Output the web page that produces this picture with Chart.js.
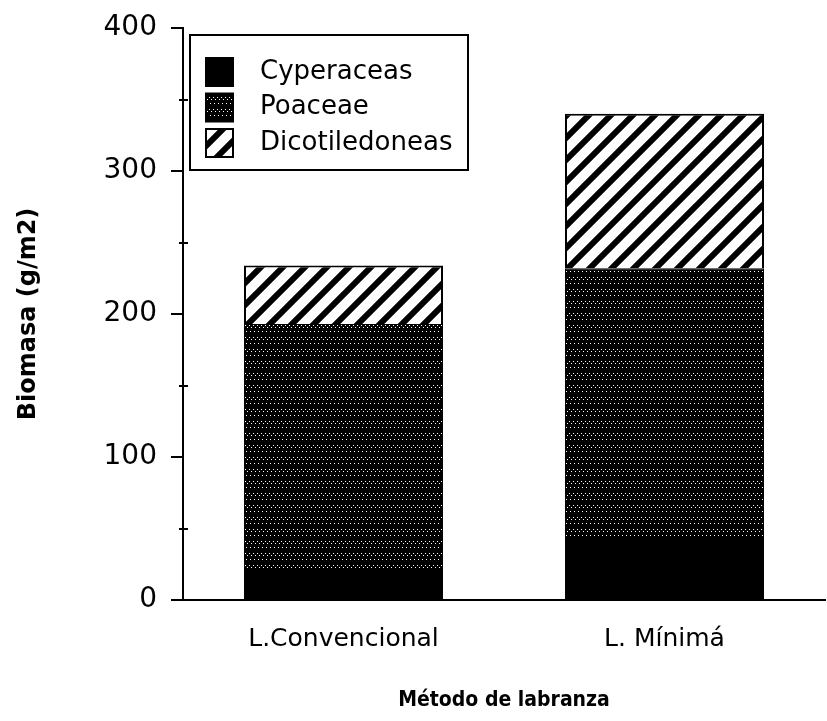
<!DOCTYPE html>
<html>
<head>
<meta charset="utf-8">
<script src="https://cdn.jsdelivr.net/npm/chart.js@4"></script>
<style>
  html, body { margin: 0; padding: 0; background: #fff; }
  #wrap { width: 827px; height: 721px; }
</style>
</head>
<body>
<div id="wrap"><canvas id="biomasaChart" width="827" height="721"></canvas></div>
<script>
var categories = ['L.Convencional', 'L. Mínimá'];
var cyperaceas = [21, 42];
var poaceae = [172, 190];
var dicotiledoneas = [41, 108];
var yTicks = [0, 100, 200, 300, 400];

// stippled fill for Poaceae
function stipple() {
    var c = document.createElement('canvas');
    c.width = 12; c.height = 12;
    var g = c.getContext('2d');
    g.fillStyle = '#000';
    g.fillRect(0, 0, 12, 12);
    g.fillStyle = '#fff';
    [[1,1],[5,1],[9,1],[3,3],[7,3],[11,3],[2,7],[6,7],[10,7]].forEach(function (p) {
        g.fillRect(p[0], p[1], 1, 1);
    });
    return g.createPattern(c, 'repeat');
}

// diagonal hatch for Dicotiledoneas
function hatch() {
    var s = 22;
    var c = document.createElement('canvas');
    c.width = s; c.height = s;
    var g = c.getContext('2d');
    g.fillStyle = '#fff';
    g.fillRect(0, 0, s, s);
    g.strokeStyle = '#000';
    g.lineWidth = 6;
    g.beginPath();
    g.moveTo(-s, s); g.lineTo(s, -s);
    g.moveTo(0, 2 * s); g.lineTo(2 * s, 0);
    g.moveTo(0, s); g.lineTo(s, 0);
    g.stroke();
    return g.createPattern(c, 'repeat');
}

var fills = ['#000', stipple(), hatch()];

var extras = {
    id: 'extras',
    afterDraw: function (chart) {
        var ctx = chart.ctx;
        var y = chart.scales.y;
        var x0 = chart.chartArea.left;
        ctx.save();
        ctx.strokeStyle = '#000';
        ctx.lineWidth = 2;
        // minor ticks
        for (var v = 50; v < 400; v += 100) {
            var py = Math.round(y.getPixelForValue(v));
            ctx.beginPath();
            ctx.moveTo(x0 - 4, py); ctx.lineTo(x0 + 5, py);
            ctx.stroke();
        }

        // legend box
        var bx = 190, by = 35, bw = 278, bh = 135;
        ctx.fillStyle = '#fff';
        ctx.fillRect(bx, by, bw, bh);
        ctx.strokeRect(bx, by, bw, bh);
        ctx.font = '26px "DejaVu Sans"';
        ctx.textBaseline = 'middle';
        chart.data.datasets.forEach(function (ds, i) {
            var cy = by + 37 + i * 35.5;
            ctx.fillStyle = ds.backgroundColor;
            ctx.fillRect(bx + 16, cy - 14, 27, 28);
            ctx.strokeRect(bx + 16, cy - 14, 27, 28);
            ctx.fillStyle = '#000';
            ctx.fillText(ds.label, bx + 70, cy);
        });
        ctx.restore();
    }
};

var ctx = document.getElementById('biomasaChart').getContext('2d');
var biomasaChart = new Chart(ctx, {
    type: 'bar',
    data: {
        labels: categories,
        datasets: [{
            label: 'Cyperaceas',
            data: cyperaceas,
            backgroundColor: fills[0],
            borderColor: '#000',
            borderWidth: 1
        }, {
            label: 'Poaceae',
            data: poaceae,
            backgroundColor: fills[1],
            borderColor: '#000',
            borderWidth: 1
        }, {
            label: 'Dicotiledoneas',
            data: dicotiledoneas,
            backgroundColor: fills[2],
            borderColor: '#000',
            borderWidth: 2
        }]
    },
    options: {
        responsive: false,
        animation: false,
        datasets: { bar: { barPercentage: 0.62, categoryPercentage: 1 } },
        layout: { padding: { top: 12, right: 2, left: 0, bottom: 6 } },
        plugins: {
            legend: { display: false },
            tooltip: { enabled: false }
        },
        scales: {
            x: {
                stacked: true,
                grid: { display: false },
                border: { display: true, color: '#000', width: 2 },
                ticks: { color: '#000', font: { family: 'DejaVu Sans', size: 25 }, padding: 16 },
                title: {
                    display: true,
                    text: 'Método de labranza',
                    color: '#000',
                    font: { family: 'DejaVu Sans Condensed', size: 21, weight: 'bold' },
                    padding: { top: 4, bottom: 2 }
                },
                afterFit: function (s) { s.height = 115; }
            },
            y: {
                stacked: true,
                min: 0,
                max: 400,
                afterBuildTicks: function (s) {
                    s.ticks = yTicks.map(function (v) { return { value: v }; });
                },
                grid: { drawOnChartArea: false, drawTicks: true, tickLength: 12, color: '#000', lineWidth: 2 },
                border: { display: true, color: '#000', width: 2 },
                ticks: { color: '#000', font: { family: 'DejaVu Sans', size: 28, lineHeight: 1 }, padding: 14 },
                title: {
                    display: true,
                    text: 'Biomasa (g/m2)',
                    color: '#000',
                    font: { family: 'DejaVu Sans', size: 24, weight: 'bold' },
                    padding: { top: 14, bottom: 10 }
                },
                afterFit: function (s) { s.width = 183; }
            }
        }
    },
    plugins: [extras]
});
</script>
</body>
</html>
